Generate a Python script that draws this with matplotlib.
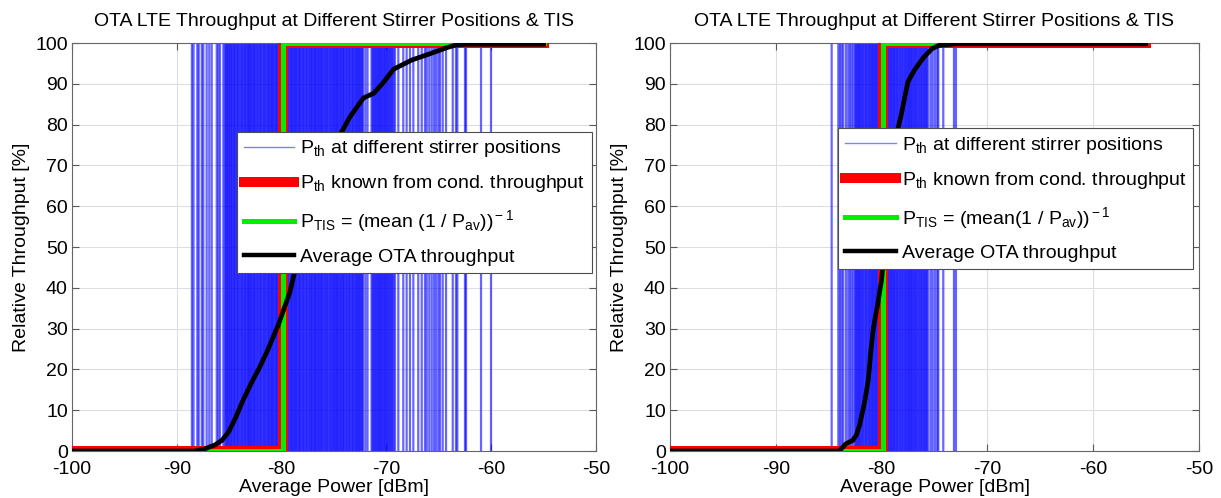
import matplotlib
matplotlib.use("Agg")
import matplotlib.pyplot as plt
from matplotlib.lines import Line2D

plt.rcParams["font.family"] = ["Liberation Sans", "DejaVu Sans"]
plt.rcParams["mathtext.fontset"] = "custom"
plt.rcParams["mathtext.rm"] = "Liberation Sans"
plt.rcParams["mathtext.it"] = "Liberation Sans:italic"
plt.rcParams["axes.unicode_minus"] = False

# ================= DATA =================
# stirrer-position thresholds (dBm), left panel
stirrer_left = [
    -88.56, -88.40, -88.04, -87.91, -87.62, -87.47, -87.15, -86.90, -86.67,
    -86.19, -86.04, -85.88, -85.56,
    -85.42, -85.31, -85.22, -85.12, -85.03, -84.91, -84.83, -84.72, -84.61,
    -84.52, -84.43, -84.31, -84.22, -84.13, -84.02, -83.92, -83.81, -83.73,
    -83.62, -83.51, -83.43, -83.32, -83.21, -83.12, -83.03, -82.92, -82.83,
    -82.71, -82.62, -82.53, -82.41, -82.32, -82.22, -82.11, -82.02, -81.93,
    -81.82, -81.71, -81.63, -81.52, -81.43, -81.31, -81.22, -81.13, -81.01,
    -80.92, -80.83, -80.72, -80.61, -80.52, -80.43, -80.32, -80.21, -80.12,
    -80.03, -79.91, -79.82, -79.73, -79.62, -79.51, -79.42, -79.33, -79.22,
    -79.11, -79.02, -78.93, -78.81, -78.72, -78.63, -78.52, -78.41, -78.32,
    -78.23, -78.12, -78.01, -77.92, -77.83, -77.71, -77.62, -77.53, -77.41,
    -77.32, -77.21, -77.12, -77.03, -76.91, -76.82, -76.73, -76.62, -76.51,
    -76.42, -76.31, -76.22, -76.13, -76.02, -75.91, -75.82, -75.71, -75.63,
    -75.52, -75.41, -75.32, -75.21, -75.12, -75.01, -74.92, -74.81, -74.72,
    -74.63, -74.52, -74.41, -74.32, -74.21, -74.12, -74.03, -73.91, -73.82,
    -73.72, -73.61, -73.52, -73.43, -73.31, -73.22, -73.13, -73.02, -72.91,
    -72.82, -72.71, -72.62, -72.51, -72.42, -72.31, -72.22,
    -72.00, -71.80,
    -71.42, -71.31, -71.22, -71.11, -71.02, -70.91, -70.82, -70.71, -70.62,
    -70.51, -70.42, -70.31, -70.21, -70.12, -70.01, -69.91, -69.82, -69.71,
    -69.62, -69.51, -69.42, -69.31,
    -69.18, -68.86, -68.39, -68.07, -67.75, -67.43, -66.96, -66.63, -66.32,
    -66.15, -65.91, -65.68, -65.46, -65.27, -65.05, -64.89, -64.63, -64.31,
    -63.67, -63.36, -63.23, -62.50, -62.40, -60.97, -60.02,
]

# stirrer-position thresholds (dBm), right panel
stirrer_right = [
    -84.72, -84.09, -83.93, -83.77, -83.62, -83.36, -83.15, -82.99, -82.83,
    -82.67,
    -82.51, -82.42, -82.31, -82.22, -82.12, -82.03, -81.92, -81.82, -81.73,
    -81.62, -81.51, -81.43, -81.32, -81.21, -81.12, -81.02, -80.91, -80.82,
    -80.72, -80.61, -80.52, -80.43, -80.31, -80.22, -80.12, -80.01, -79.92,
    -79.82, -79.71, -79.62, -79.52, -79.41, -79.32, -79.21, -79.12, -79.02,
    -78.91, -78.82, -78.72, -78.61, -78.52, -78.42, -78.31, -78.22, -78.11,
    -78.02, -77.92, -77.81, -77.72, -77.62, -77.51, -77.42, -77.31, -77.22,
    -77.12, -77.01, -76.92, -76.81, -76.72, -76.62, -76.51, -76.42, -76.31,
    -76.22, -76.12, -76.01, -75.92, -75.81, -75.72, -75.59,
    -75.36, -75.17, -74.95, -74.74, -74.64, -74.17, -73.16, -72.97,
]

# threshold from conducted throughput (red) and TIS (green), dBm
pth_cond = [-79.88, -79.88]
p_tis = [-79.86, -79.86]
x_start = -100
x_end = -55

# average OTA throughput curves
ota_left_x = [-100, -88.3, -87.35, -86.35, -85.7, -85.05, -84.4, -83.7, -82.9,
              -82.1, -81.4, -80.3, -79.2, -78.2, -77.2, -75.8, -74.4, -73.5,
              -72.2, -71.2, -70.3, -69.3, -67.6, -65.7, -64.3, -63.4, -62.3,
              -55]
ota_left_y = [0, 0, 0.5, 1.5, 2.6, 4.7, 8.1, 12.3, 16.6,
              20.5, 24.3, 31, 39, 50, 60, 70, 77.6, 81.8,
              86.5, 87.7, 90.3, 93.6, 95.8, 97.5, 98.8, 99.5, 99.7,
              99.7]

ota_right_x = [-100, -84.0, -83.36, -82.72, -82.39, -82.07, -81.58, -81.26,
               -81.05, -80.8, -80.4, -80.0, -79.7, -79.3, -78.9, -78.49,
               -78.17, -77.84, -77.51, -76.86, -76.05, -75.24, -74.6, -72.97,
               -55]
ota_right_y = [0, 0, 1.8, 2.6, 3.9, 6.4, 12.3, 17.4,
               23.5, 29.7, 35.5, 42, 50, 60, 70, 78.7,
               82.1, 86.3, 90.5, 93.5, 96.4, 98.6, 99.4, 99.8,
               99.8]

title_text = "OTA LTE Throughput at Different Stirrer Positions & TIS"
legend_left = [
    r"P$_{\rm th}$ at different stirrer positions",
    r"P$_{\rm th}$ known from cond. throughput",
    r"P$_{\rm TIS}$ = (mean (1 / P$_{\rm av}$))$^{\rm -1}$",
    "Average OTA throughput",
]
legend_right = [
    r"P$_{\rm th}$ at different stirrer positions",
    r"P$_{\rm th}$ known from cond. throughput",
    r"P$_{\rm TIS}$ = (mean(1 / P$_{\rm av}$))$^{\rm -1}$",
    "Average OTA throughput",
]

FS = 14


def draw_panel(ax, stirrer, ota_x, ota_y, labels, legend_anchor):
    """Draw one panel of the figure."""
    ax.vlines(stirrer, 0, 100, colors="#0000ff", linewidth=1.6, alpha=0.6,
              snap=False, zorder=2)
    ax.plot([x_start, pth_cond[0], pth_cond[1], x_end], [0, 0, 100, 100],
            color="#ff0000", linewidth=7.2, solid_joinstyle="miter", zorder=3)
    ax.plot([x_start, p_tis[0], p_tis[1], x_end], [0, 0, 100, 100],
            color="#00ee00", linewidth=3.6, solid_joinstyle="miter", zorder=4)
    ax.plot(ota_x, ota_y, color="black", linewidth=3.4, zorder=5)

    ax.set_xlim(-100, -50)
    ax.set_ylim(0, 100)
    ax.set_xticks(range(-100, -49, 10))
    ax.set_yticks(range(0, 101, 10))
    ax.grid(True, color="0.87", linewidth=0.8)
    ax.set_axisbelow(True)
    ax.tick_params(direction="in", length=5, top=True, right=True,
                   labelsize=FS, color="0.35")
    ax.tick_params(axis="x", pad=7)
    ax.tick_params(axis="y", pad=3)
    for sp in ax.spines.values():
        sp.set_color("0.4")
        sp.set_linewidth(0.8)
    ax.set_title(title_text, fontsize=FS, pad=12)
    ax.set_xlabel("Average Power [dBm]", fontsize=FS, labelpad=1)
    ax.set_ylabel("Relative Throughput [%]", fontsize=FS, labelpad=4)

    handles = [
        Line2D([], [], color="#0000ff", linewidth=1.0, alpha=0.5),
        Line2D([], [], color="#ff0000", linewidth=7.2),
        Line2D([], [], color="#00ee00", linewidth=3.6),
        Line2D([], [], color="black", linewidth=3.2),
    ]
    leg = ax.legend(handles, labels, loc="upper right",
                    bbox_to_anchor=legend_anchor, fontsize=FS,
                    fancybox=False, framealpha=1, edgecolor="0.3",
                    handlelength=2.6, handletextpad=0.3, labelspacing=0.72,
                    borderpad=0.35, borderaxespad=0)
    leg.get_frame().set_linewidth(0.8)
    leg.set_zorder(10)


fig = plt.figure(figsize=(12.21, 4.98), dpi=100)
ax1 = fig.add_axes([72 / 1221, 47 / 498, 524 / 1221, 408 / 498])
ax2 = fig.add_axes([670 / 1221, 47 / 498, 529 / 1221, 408 / 498])

draw_panel(ax1, stirrer_left, ota_left_x, ota_left_y, legend_left,
           (0.992, 0.783))
draw_panel(ax2, stirrer_right, ota_right_x, ota_right_y, legend_right,
           (0.989, 0.792))

fig.savefig("out.png", dpi=100)
